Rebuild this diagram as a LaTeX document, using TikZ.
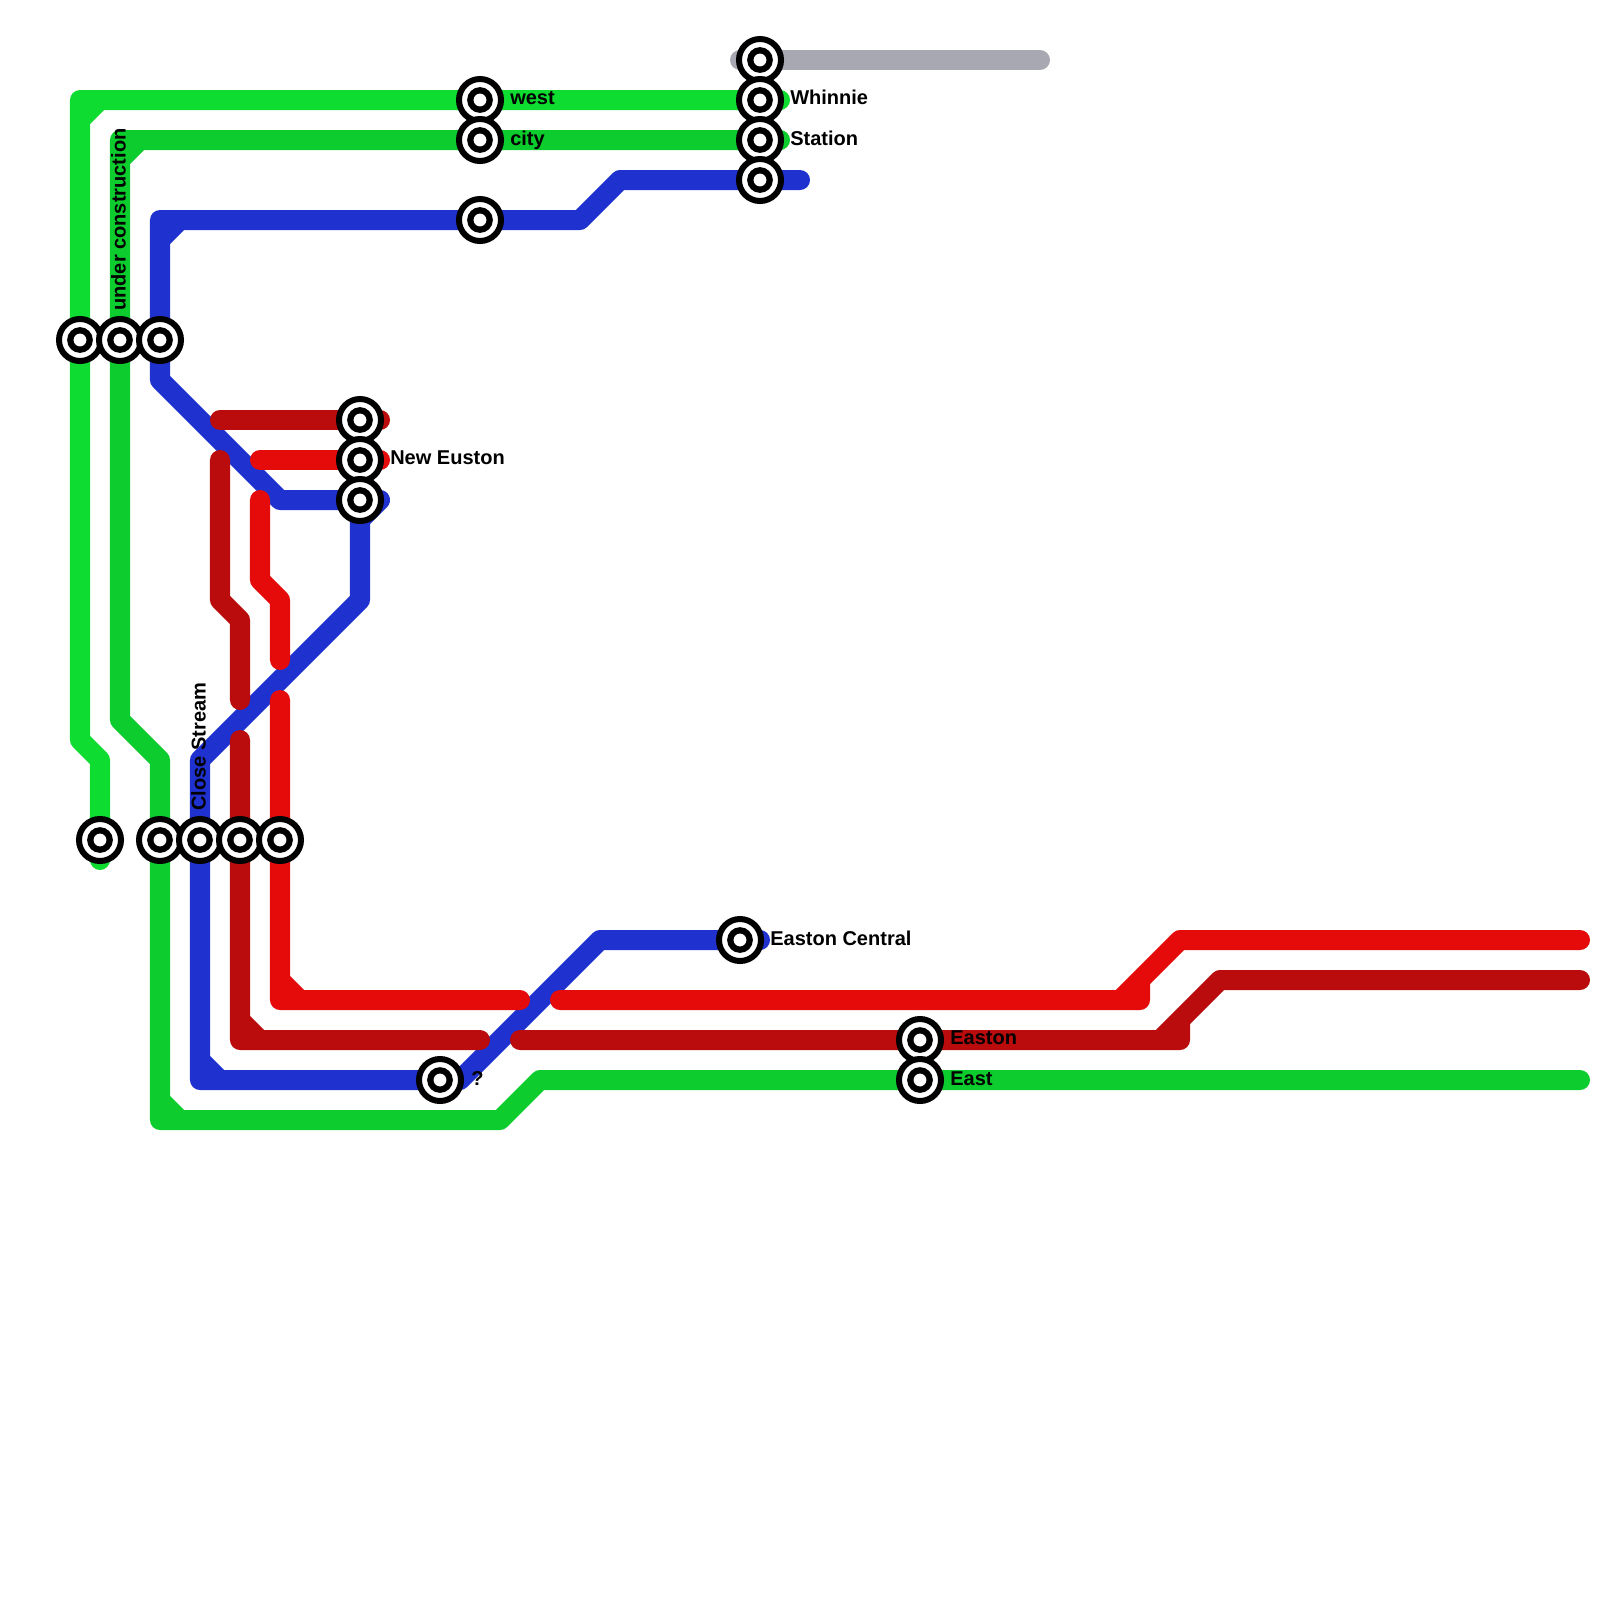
\documentclass[tikz,border=0pt]{standalone}
\usepackage{fontspec}
\setmainfont{Liberation Sans}
\usetikzlibrary{backgrounds}

\definecolor{linegray}{RGB}{168,168,178}
\definecolor{linelime}{RGB}{15,220,48}
\definecolor{linegreen}{RGB}{13,204,45}
\definecolor{lineblue}{RGB}{31,49,207}
\definecolor{linemaroon}{RGB}{186,12,12}
\definecolor{linered}{RGB}{230,11,11}

\begin{document}
\begin{tikzpicture}[
  x=0.025cm, y=-0.025cm,
  track/.style={line width=14.23pt, line cap=round, line join=round},
  stn/.style={circle, draw=black, fill=white, line width=4.27pt, minimum size=1.05cm, inner sep=0pt, outer sep=0pt,
    path picture={\draw[line width=4.41pt] (path picture bounding box.center) circle (9.7);}},
  lbl/.style={anchor=base west, inner sep=0pt, text=black, font=\fontsize{14.23}{17}\selectfont\bfseries}
]
\useasboundingbox (0,0) rectangle (1600,1600);

% stations
\foreach \name/\x/\y in {sgray/760/60, swhin/760/100, sstat/760/140, seast/760/180,
    swest/480/100, scity/480/140, snort/480/220,
    slima/80/340, sunde/120/340, sblue/160/340,
    seusa/360/420, seusb/360/460, seusc/360/500,
    sspur/100/840, sgree/160/840, sclos/200/840, smaro/240/840, sredd/280/840,
    sques/440/1080, scent/740/940, seasn/920/1040, seast2/920/1080}
  \node[stn] (\name) at (\x,\y) {};

% bends
\foreach \name/\x/\y in {gy1/740/60, gy2/1040/60,
    la1/100/860, la2/100/760, la3/80/740, la4/80/120, la5/80/100, la6/100/100, la7/780/100,
    gb1/780/140, gb2/140/140, gb3/120/140, gb4/120/160, gb5/120/720, gb6/160/760,
    gb7/160/1100, gb8/160/1120, gb9/180/1120, gb10/500/1120, gb11/540/1080, gb12/1580/1080,
    bl1/800/180, bl2/620/180, bl3/580/220, bl4/180/220, bl5/160/220, bl6/160/240, bl7/160/380,
    bl8/280/500, bl9/380/500, bl10/360/520, bl11/360/600, bl12/200/760, bl13/200/1060,
    bl14/200/1080, bl15/220/1080, bl16/460/1080, bl17/600/940, bl18/760/940,
    da1/220/420, da2/380/420, db1/220/460, db2/220/600, db3/240/620, db4/240/700,
    dc1/240/740, dc2/240/1020, dc3/240/1040, dc4/260/1040, dc5/480/1040,
    dd1/520/1040, dd2/1160/1040, dd3/1180/1040, dd4/1180/1020, dd5/1220/980, dd6/1580/980,
    ra1/260/460, ra2/380/460, rb1/260/500, rb2/260/580, rb3/280/600, rb4/280/660,
    rc1/280/700, rc2/280/980, rc3/280/1000, rc4/300/1000, rc5/520/1000,
    rd1/560/1000, rd2/1120/1000, rd3/1140/1000, rd4/1140/980, rd5/1180/940, rd6/1580/940}
  \coordinate (\name) at (\x,\y);

\begin{scope}[on background layer]
\draw[track, linegray] (gy1) -- (sgray.center) -- (gy2);
\draw[track, linelime] (la1) -- (sspur.center) -- (la2) -- (la3) -- (slima.center) -- (la4) -- (la5) -- (la6) -- (la4) -- (la6)
  -- (swest.center) -- (swhin.center) -- (la7);
\draw[track, linegreen] (gb1) -- (sstat.center) -- (scity.center) -- (gb2) -- (gb3) -- (gb4) -- (gb2) -- (gb4)
  -- (sunde.center) -- (gb5) -- (gb6) -- (sgree.center) -- (gb7) -- (gb8) -- (gb9) -- (gb7) -- (gb9)
  -- (gb10) -- (gb11) -- (seast2.center) -- (gb12);
\draw[track, lineblue] (bl1) -- (seast.center) -- (bl2) -- (bl3) -- (snort.center) -- (bl4) -- (bl5) -- (bl6) -- (bl4) -- (bl6)
  -- (sblue.center) -- (bl7) -- (bl8) -- (seusc.center) -- (bl9) -- (bl10) -- (bl11) -- (bl12)
  -- (sclos.center) -- (bl13) -- (bl14) -- (bl15) -- (bl13) -- (bl15)
  -- (sques.center) -- (bl16) -- (bl17) -- (scent.center) -- (bl18);
\draw[track, linemaroon] (da1) -- (seusa.center) -- (da2);
\draw[track, linemaroon] (db1) -- (db2) -- (db3) -- (db4);
\draw[track, linemaroon] (dc1) -- (smaro.center) -- (dc2) -- (dc3) -- (dc4) -- (dc2) -- (dc4) -- (dc5);
\draw[track, linemaroon] (dd1) -- (seasn.center) -- (dd3) -- (dd4) -- (dd2) -- (dd5) -- (dd6);
\draw[track, linered] (ra1) -- (seusb.center) -- (ra2);
\draw[track, linered] (rb1) -- (rb2) -- (rb3) -- (rb4);
\draw[track, linered] (rc1) -- (sredd.center) -- (rc2) -- (rc3) -- (rc4) -- (rc2) -- (rc4) -- (rc5);
\draw[track, linered] (rd1) -- (rd3) -- (rd4) -- (rd2) -- (rd5) -- (rd6);
\end{scope}

% labels
\node[lbl] (lwest) at (510,104.5) {west};
\node[lbl] (lcity) at (510,145) {city};
\node[lbl] (lwhin) at (790,104.5) {Whinnie};
\node[lbl] (lstat) at (790,145) {Station};
\node[lbl] (leust) at (390,464) {New Euston};
\node[lbl] (lcent) at (770,945) {Easton Central};
\node[lbl] (lques) at (471,1085) {?};
\node[lbl] (leasn) at (950,1044.5) {Easton};
\node[lbl] (least) at (950,1085) {East};
\node[lbl, rotate=90] (lunde) at (125.7,311) {under construction};
\node[lbl, rotate=90] (lclos) at (205.7,811) {Close Stream};
\end{tikzpicture}
\end{document}
